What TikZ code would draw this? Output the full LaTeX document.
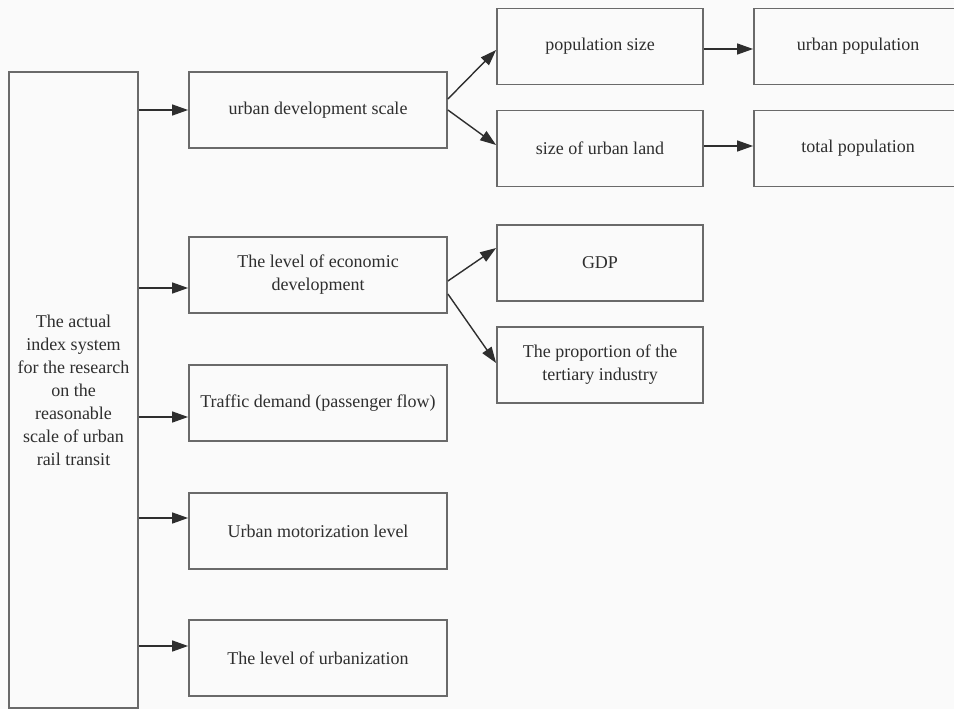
\documentclass[tikz,border=0pt]{standalone}
\usepackage{fontspec}
\setmainfont{Liberation Serif}
\usetikzlibrary{arrows.meta}
\definecolor{boxline}{HTML}{6A6A6A}
\definecolor{inkc}{HTML}{2E2E2E}
\definecolor{paper}{HTML}{FAFAFA}
\begin{document}
\begin{tikzpicture}[x=1pt,y=-1pt,
  box/.style={draw=boxline, line width=1.8pt, rectangle, inner sep=2pt,
    text=inkc, align=center, font=\fontsize{18}{23}\selectfont},
  colA/.style={box, minimum width=129pt, minimum height=636pt},
  colB/.style={box, minimum width=258pt, minimum height=76pt},
  colC/.style={box, minimum width=206pt, minimum height=76pt},
  colD/.style={box, minimum width=208pt, minimum height=76pt},
  arr/.style={draw=inkc, line width=1.4pt, -{Triangle[length=16pt,width=11pt]}}]
\useasboundingbox[fill=paper] (0,0) rectangle (954,709);

% root box
\node[colA] (root) at (73.5,390) {The actual\\index system\\for the research\\on the\\reasonable\\scale of urban\\rail transit};

% second level
\node[colB] (scale) at (318,110) {urban development scale};
\node[colB] (econ)  at (318,275) {The level of economic\\development};
\node[colB] (traf)  at (318,403) {Traffic demand (passenger flow)};
\node[colB] (motor) at (318,531) {Urban motorization level};
\node[colB] (urbz)  at (318,658) {The level of urbanization};

% third level
\node[colC] (pop)  at (600,46.5)  {population size};
\node[colC] (land) at (600,148.5) {size of urban land};
\node[colC] (gdp)  at (600,263)   {GDP};
\node[colC] (tert) at (600,365)   {The proportion of the\\tertiary industry};

% fourth level
\node[colD] (upop) at (858,46.5)  {urban population};
\node[colD] (tpop) at (858,148.5) {total population};

% arrow end points on the box sides
\coordinate (inScale) at (scale.west);
\coordinate (inEcon)  at ([yshift=-13pt]econ.west);
\coordinate (inTraf)  at ([yshift=-14pt]traf.west);
\coordinate (inMotor) at ([yshift=13pt]motor.west);
\coordinate (inUrbz)  at ([yshift=12pt]urbz.west);

\draw[arr] (root.east |- inScale) -- (inScale);
\draw[arr] (root.east |- inEcon)  -- (inEcon);
\draw[arr] (root.east |- inTraf)  -- (inTraf);
\draw[arr] (root.east |- inMotor) -- (inMotor);
\draw[arr] (root.east |- inUrbz)  -- (inUrbz);

\draw[arr] ([yshift=11pt]scale.east) -- ([yshift=-3.5pt]pop.west);
\draw[arr] (scale.east) -- ([yshift=3.5pt]land.west);
\draw[arr] ([yshift=-6pt]econ.east) -- ([yshift=15pt]gdp.west);
\draw[arr] ([yshift=-19pt]econ.east) -- ([yshift=2pt]tert.west);

\draw[arr] ([yshift=-2.5pt]pop.east) -- ([yshift=-2.5pt]upop.west);
\draw[arr] ([yshift=2.5pt]land.east) -- ([yshift=2.5pt]tpop.west);
\end{tikzpicture}
\end{document}
